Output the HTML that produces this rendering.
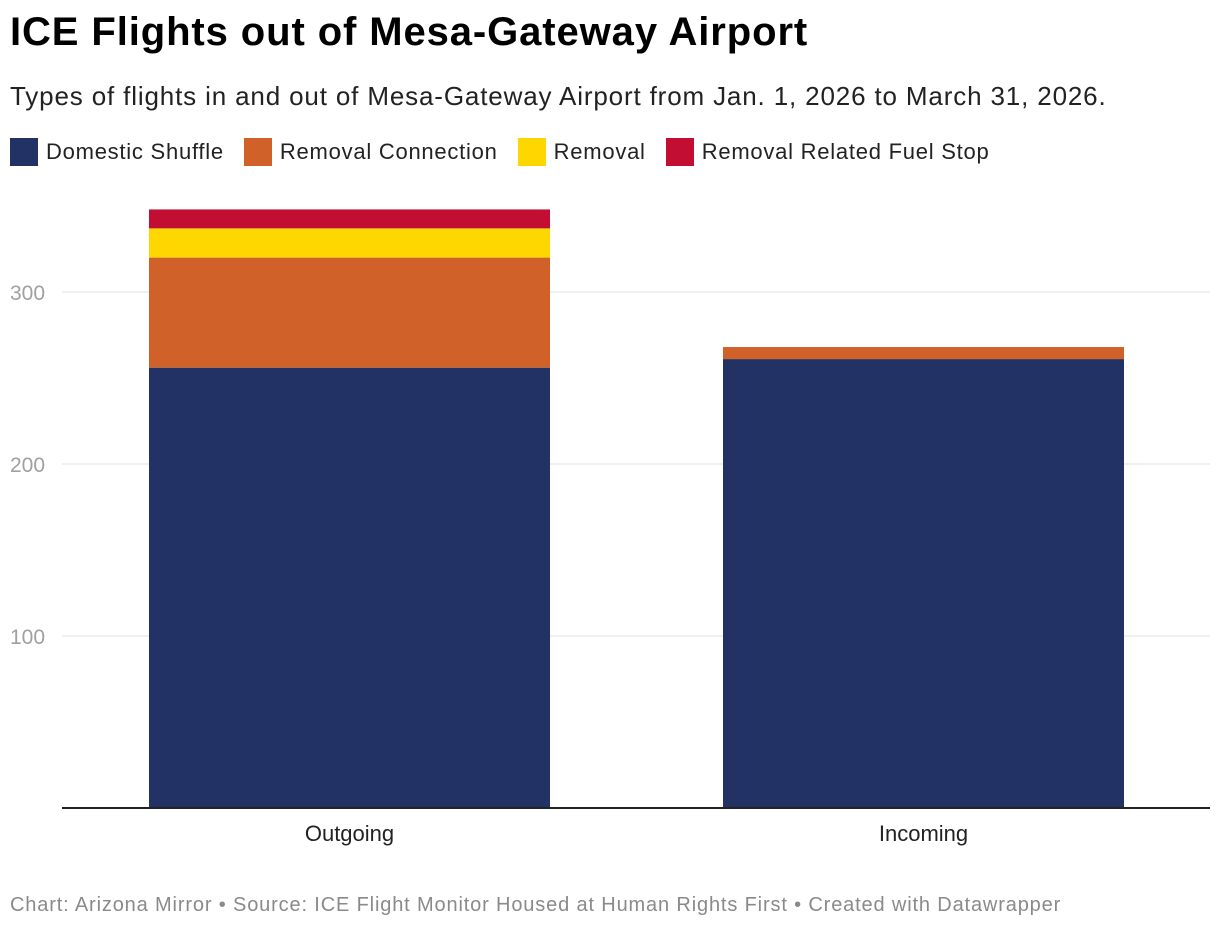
<!DOCTYPE html>
<html><head><meta charset="utf-8"><style>
body{margin:0;background:#fff;font-family:"Liberation Sans",Arial,sans-serif;width:1220px;height:930px;overflow:hidden;position:relative}
h1{position:absolute;left:10px;top:10px;margin:0;font-size:40px;font-weight:bold;color:#000;letter-spacing:0.9px}
.sub{position:absolute;left:10px;top:81px;font-size:26px;color:#222;letter-spacing:0.85px}
.legend{position:absolute;left:10px;top:138px;display:flex;font-size:22px;color:#222;letter-spacing:0.75px}
.li{display:flex;align-items:center;margin-right:20px}
.sw{width:28px;height:28px;margin-right:8px}
.foot{position:absolute;left:10px;top:894px;font-size:20px;color:#8a8a8a;letter-spacing:0.85px}
</style></head><body>
<h1>ICE Flights out of Mesa-Gateway Airport</h1>
<div class="sub">Types of flights in and out of Mesa-Gateway Airport from Jan. 1, 2026 to March 31, 2026.</div>
<div class="legend">
<div class="li"><div class="sw" style="background:#223265"></div>Domestic Shuffle</div>
<div class="li"><div class="sw" style="background:#d06128"></div>Removal Connection</div>
<div class="li"><div class="sw" style="background:#ffd700"></div>Removal</div>
<div class="li"><div class="sw" style="background:#c20e33"></div>Removal Related Fuel Stop</div>
</div>
<svg id="chart" width="1220" height="930" style="position:absolute;left:0;top:0"></svg>
<div class="foot">Chart: Arizona Mirror • Source: ICE Flight Monitor Housed at Human Rights First • Created with Datawrapper</div>
<script>
const categories = ["Outgoing", "Incoming"];
const domesticShuffle = [256, 261];
const removalConnection = [64, 7];
const removal = [17, 0];
const fuelStop = [11, 0];
const yTicks = [100, 200, 300];
const seriesColors = ["#223265", "#d06128", "#ffd700", "#c20e33"];
const seriesNames = ["domestic-shuffle", "removal-connection", "removal", "fuel-stop"];

const NS = "http://www.w3.org/2000/svg";
const svg = document.getElementById("chart");
const y0 = 808, pxPer = 1.72, left = 62, right = 1210;
const y = v => y0 - v * pxPer;
const band = 574, barW = 401, firstX = 149;
const x = i => firstX + i * band;

yTicks.forEach(t => {
  const l = document.createElementNS(NS, "line");
  
  
  l.setAttribute("x1", left); l.setAttribute("x2", right);
  l.setAttribute("y1", y(t)); l.setAttribute("y2", y(t));
  l.setAttribute("stroke", "#e0e0e0"); l.setAttribute("stroke-width", "1");
  svg.appendChild(l);
  const tx = document.createElementNS(NS, "text");
  
  
  tx.setAttribute("x", 10); tx.setAttribute("y", y(t) + 8);
  tx.setAttribute("font-size", "21"); tx.setAttribute("fill", "#a0a0a0");
  tx.setAttribute("font-family", "Liberation Sans, Arial, sans-serif");
  tx.textContent = t;
  svg.appendChild(tx);
});

const series = [domesticShuffle, removalConnection, removal, fuelStop];
categories.forEach((c, i) => {
  let acc = 0;
  series.forEach((s, k) => {
    const v = s[i];
    if (v > 0) {
      const r = document.createElementNS(NS, "rect");
      
      
      r.setAttribute("x", x(i)); r.setAttribute("width", barW);
      r.setAttribute("y", y(acc + v)); r.setAttribute("height", v * pxPer);
      r.setAttribute("fill", seriesColors[k]);
      svg.appendChild(r);
    }
    acc += v;
  });
  const tx = document.createElementNS(NS, "text");
  
  
  tx.setAttribute("x", x(i) + barW / 2); tx.setAttribute("y", 841);
  tx.setAttribute("text-anchor", "middle");
  tx.setAttribute("font-size", "22"); tx.setAttribute("fill", "#222");
  tx.setAttribute("font-family", "Liberation Sans, Arial, sans-serif");
  tx.textContent = c;
  svg.appendChild(tx);
});

const base = document.createElementNS(NS, "line");


base.setAttribute("x1", left); base.setAttribute("x2", right);
base.setAttribute("y1", y0); base.setAttribute("y2", y0);
base.setAttribute("stroke", "#222"); base.setAttribute("stroke-width", "2");
svg.appendChild(base);
</script>
</body></html>
